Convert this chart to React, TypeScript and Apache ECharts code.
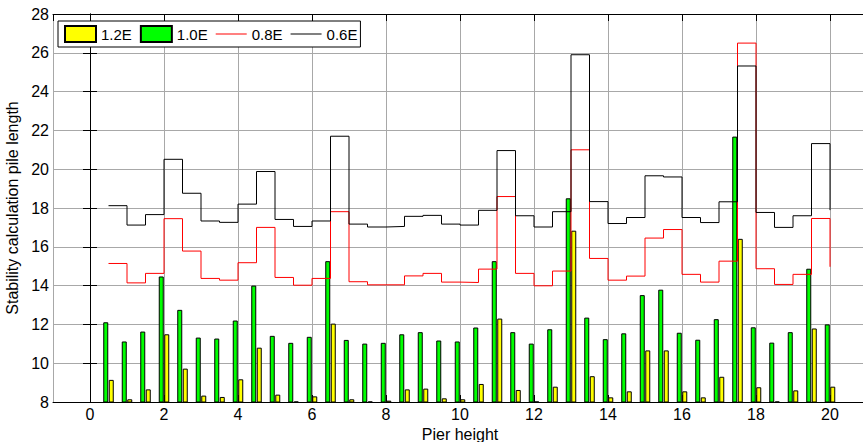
import React, { useEffect, useRef } from "react";
import * as echarts from "echarts";

const positions = [
  0.5, 1, 1.5, 2, 2.5, 3, 3.5, 4, 4.5, 5, 5.5, 6, 6.5, 7, 7.5, 8, 8.5, 9, 9.5, 10,
  10.5, 11, 11.5, 12, 12.5, 13, 13.5, 14, 14.5, 15, 15.5, 16, 16.5, 17, 17.5, 18, 18.5, 19, 19.5, 20,
];

const e12 = [
  9.14, 8.14, 8.65, 11.49, 9.72, 8.33, 8.26, 9.17, 10.8, 8.38, 8.03, 8.29, 12.04, 8.14, 8.03, 8.07, 8.65, 8.69, 8.19, 8.14,
  8.93, 12.3, 8.62, 8.03, 8.79, 16.83, 9.33, 8.24, 8.55, 10.66, 10.66, 8.55, 8.24, 9.3, 16.41, 8.76, 8.03, 8.6, 11.79, 8.79,
];

const e10 = [
  12.11, 11.12, 11.63, 14.47, 12.75, 11.32, 11.27, 12.2, 14.0, 11.41, 11.05, 11.36, 15.26, 11.2, 11.01, 11.05, 11.49, 11.6, 11.17, 11.12,
  11.84, 15.26, 11.6, 11.01, 11.75, 18.5, 12.35, 11.24, 11.54, 13.51, 13.79, 11.57, 11.21, 12.27, 21.68, 11.85, 11.06, 11.6, 14.87, 12.0,
];

const e08 = [
  15.14, 14.14, 14.63, 17.45, 15.78, 14.37, 14.28, 15.18, 17.0, 14.42, 14.02, 14.37, 17.81, 14.2, 14.04, 14.04, 14.5, 14.63, 14.18, 14.16,
  14.85, 18.59, 14.63, 13.99, 14.75, 21.0, 15.4, 14.28, 14.49, 16.45, 16.89, 14.58, 14.18, 15.26, 26.5, 14.87, 14.06, 14.58, 17.46, 14.97,
];

const e06 = [
  18.12, 17.12, 17.66, 20.51, 18.76, 17.33, 17.26, 18.2, 19.88, 17.41, 17.05, 17.33, 21.7, 17.17, 17.02, 17.05, 17.57, 17.62, 17.17, 17.12,
  17.88, 20.96, 17.6, 17.02, 17.81, 25.9, 18.33, 17.2, 17.51, 19.66, 19.6, 17.51, 17.25, 18.32, 25.32, 17.77, 17.0, 17.6, 21.32, 17.89,
];

const FONT = "'Liberation Sans', Arial, Helvetica, sans-serif";
const LINE_ICON = "path://M0,0L0,0M0,7.5L31,7.5L31,8.5L0,8.5ZM31,16L31,16";

const pairs = (ys: number[]) => positions.map((x, i) => [x, ys[i]]);

export default function App() {
  const ref = useRef<HTMLDivElement>(null);
  useEffect(() => {
    if (!ref.current) return;
    const chart = echarts.init(ref.current, null, { renderer: "svg" });
    const axisLine = { show: true, lineStyle: { color: "#000", width: 1 } };
    const tick = { show: true, inside: true, length: 7, lineStyle: { color: "#000", width: 1 } };
    const grid = { show: true, lineStyle: { color: "#a8a8a8", width: 1 } };
    chart.setOption({
      animation: false,
      backgroundColor: "#fff",
      textStyle: { fontFamily: FONT },
      grid: { left: 53, top: 14, width: 814, height: 388, outerBoundsMode: "none", containLabel: false },
      legend: {
        data: [
          { name: "1.2E", icon: "rect" },
          { name: "1.0E", icon: "rect" },
          { name: "0.8E", icon: LINE_ICON },
          { name: "0.6E", icon: LINE_ICON },
        ],
        left: 58,
        top: 21,
        orient: "horizontal",
        itemWidth: 31,
        itemHeight: 16,
        itemGap: 8,
        padding: [4, 3, 4, 6],
        borderColor: "#000",
        borderWidth: 1,
        borderRadius: 0,
        backgroundColor: "#fff",
        textStyle: { fontSize: 15, color: "#000", fontFamily: FONT },
      },
      xAxis: [
        {
          type: "value",
          min: -1,
          max: 21,
          splitNumber: 10,
          minInterval: 2,
          maxInterval: 2,
          name: "Pier height",
          nameLocation: "middle",
          nameGap: 19,
          nameTextStyle: { fontSize: 16, color: "#000", fontFamily: FONT },
          axisLine,
          axisTick: tick,
          axisLabel: { fontSize: 16, color: "#000", margin: 4, showMinLabel: false, showMaxLabel: false, fontFamily: FONT },
          splitLine: grid,
        },
        {
          type: "value",
          position: "top",
          min: -1,
          max: 21,
          splitNumber: 10,
          minInterval: 2,
          maxInterval: 2,
          axisLine,
          axisTick: tick,
          axisLabel: { show: false },
          splitLine: { show: false },
        },
      ],
      yAxis: [
        {
          type: "value",
          min: 8,
          max: 28,
          interval: 2,
          name: "Stability calculation pile length",
          nameLocation: "middle",
          nameGap: 25,
          nameRotate: 90,
          nameTextStyle: { fontSize: 16, color: "#000", fontFamily: FONT },
          axisLine,
          axisTick: tick,
          axisLabel: { fontSize: 16, color: "#000", margin: 4, fontFamily: FONT },
          splitLine: grid,
        },
        {
          type: "value",
          position: "right",
          min: 8,
          max: 28,
          interval: 2,
          axisLine,
          axisTick: tick,
          axisLabel: { show: false },
          splitLine: { show: false },
        },
      ],
      series: [
        {
          name: "1.0E",
          type: "bar",
          data: pairs(e10),
          barWidth: 5,
          barGap: "10%",
          itemStyle: { color: "#00ff00", borderColor: "#000", borderWidth: 1 },
          clip: true,
        },
        {
          name: "1.2E",
          type: "bar",
          data: pairs(e12),
          barWidth: 5,
          barGap: "10%",
          itemStyle: { color: "#ffff00", borderColor: "#000", borderWidth: 1 },
          clip: true,
        },
        {
          name: "0.8E",
          type: "line",
          step: "end",
          data: pairs(e08),
          symbol: "none",
          showSymbol: false,
          lineStyle: { color: "#ff0000", width: 1 },
          itemStyle: { color: "#ff0000" },
        },
        {
          name: "0.6E",
          type: "line",
          step: "end",
          data: pairs(e06),
          symbol: "none",
          showSymbol: false,
          lineStyle: { color: "#000000", width: 1 },
          itemStyle: { color: "#000000" },
        },
      ],
    });
    return () => chart.dispose();
  }, []);
  return (
    <div
      ref={ref}
      style={{ position: "fixed", left: 0, top: 0, width: 863, height: 442, background: "#fff" }}
    />
  );
}
